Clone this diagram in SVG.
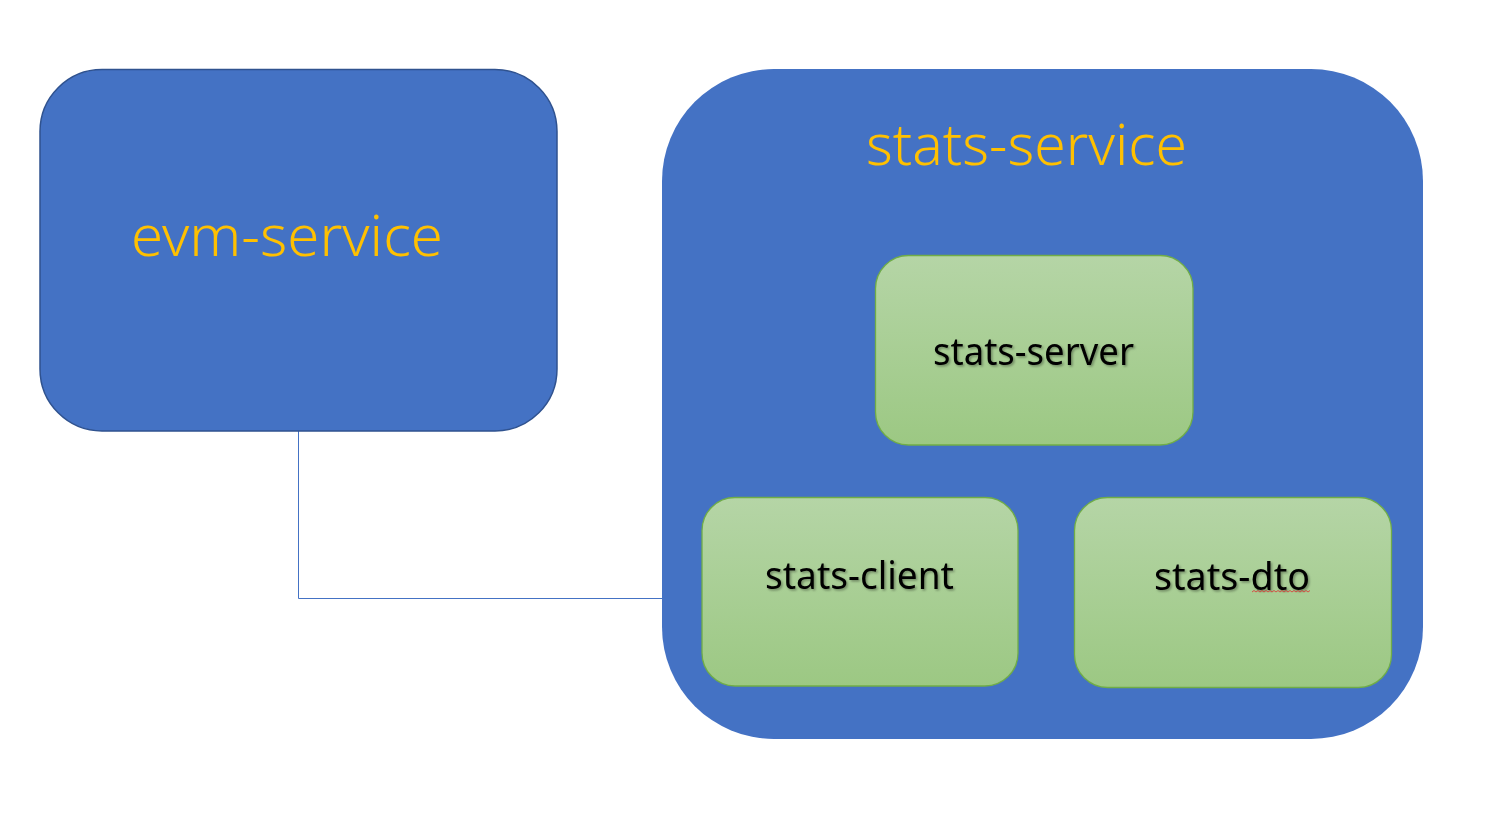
<svg xmlns="http://www.w3.org/2000/svg" width="1499" height="839" viewBox="0 0 1499 839">
<defs>
<linearGradient id="green" x1="0" y1="0" x2="0" y2="1">
<stop offset="0" stop-color="#B5D5A6"/>
<stop offset="1" stop-color="#9CC883"/>
</linearGradient>
<filter id="shadow" x="-10%" y="-30%" width="120%" height="160%">
<feDropShadow dx="1.5" dy="1.5" stdDeviation="1.2" flood-color="#000" flood-opacity="0.35"/>
</filter>
</defs>
<style>
.blue{fill:#4472C4}
.evm{stroke:#2F528F;stroke-width:1.5}
.green{fill:url(#green);stroke:#70AD47;stroke-width:1.3}
.ttl{font-family:"Noto Sans","Noto Sans CJK SC",sans-serif;font-size:57px;font-weight:300;fill:#FFC000;text-anchor:middle}
.lbl{font-family:"Noto Sans","Noto Sans CJK SC",sans-serif;font-size:38px;fill:#000;text-anchor:middle;filter:url(#shadow)}
.conn{fill:none;stroke:#4472C4;stroke-width:1}
</style>
<rect width="1499" height="839" fill="#fff"/>
<g id="connectors">
<path class="conn" d="M298.5 431 V598.5 H663"/>
</g>
<g id="evm-service">
<rect class="blue evm" x="40" y="69.5" width="517" height="361.5" rx="62" ry="62"/>
<text class="ttl" x="287" y="256" textLength="312" lengthAdjust="spacingAndGlyphs">evm-service</text>
</g>
<g id="stats-service">
<rect class="blue" x="662" y="69" width="761" height="670" rx="112" ry="112"/>
<text class="ttl" x="1026.5" y="165" textLength="321" lengthAdjust="spacingAndGlyphs">stats-service</text>
</g>
<g id="stats-server">
<rect class="green" x="875.5" y="255.5" width="317.5" height="189.5" rx="33" ry="33"/>
<text class="lbl" x="1033.5" y="365" textLength="201" lengthAdjust="spacingAndGlyphs">stats-server</text>
</g>
<g id="stats-client">
<rect class="green" x="702" y="497.5" width="316" height="188.5" rx="33" ry="33"/>
<text class="lbl" x="859.5" y="589" textLength="189" lengthAdjust="spacingAndGlyphs">stats-client</text>
</g>
<g id="stats-dto">
<rect class="green" x="1074.5" y="497.5" width="317" height="190" rx="33" ry="33"/>
<text class="lbl" x="1232" y="590" textLength="156" lengthAdjust="spacingAndGlyphs">stats-dto</text>
<path d="M1252 592 l2 -1.5 l2 1.5 l2 -1.5 l2 1.5 l2 -1.5 l2 1.5 l2 -1.5 l2 1.5 l2 -1.5 l2 1.5 l2 -1.5 l2 1.5 l2 -1.5 l2 1.5 l2 -1.5 l2 1.5 l2 -1.5 l2 1.5 l2 -1.5 l2 1.5 l2 -1.5 l2 1.5 l2 -1.5 l2 1.5 l2 -1.5 l2 1.5 l2 -1.5 l2 1.5 l2 -1.5" fill="none" stroke="#E03030" stroke-width="0.8"/>
</g>
</svg>
